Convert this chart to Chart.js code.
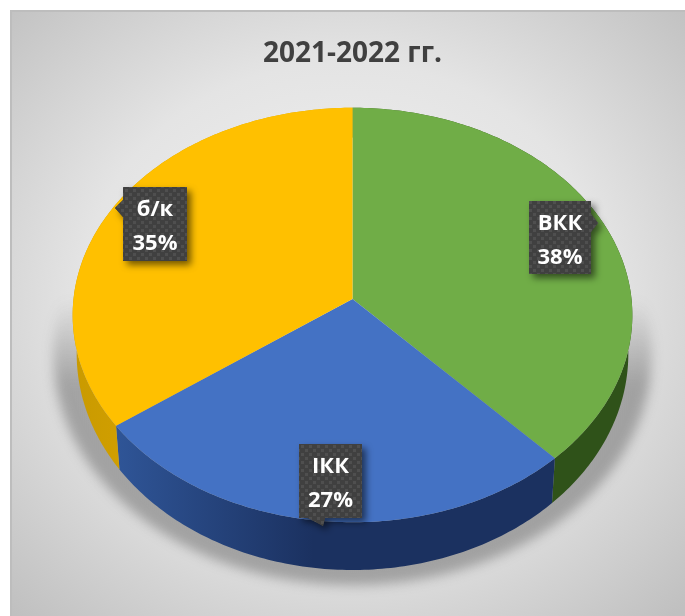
<!DOCTYPE html>
<html>
<head>
<meta charset="utf-8">
<style>html,body{margin:0;padding:0;background:#fff}canvas{display:block}</style>
<script src="https://cdn.jsdelivr.net/npm/chart.js@4/dist/chart.umd.js"></script>
</head>
<body>
<canvas id="c" width="685" height="616"></canvas>
<script>
const chartTitle = '2021-2022 гг.';
const categories = ['ВКК', 'ІКК', 'б/к'];
const shares = [38, 27, 35];
const topColors = ['#70ad47', '#4472c4', '#ffc000'];
const sideLight = ['#3f6a22', '#2f5597', '#c99a00'];
const sideDark = ['#2f5219', '#1b3160', '#dca600'];

const FONT = '"Open Sans", Lato, "Noto Sans", sans-serif';
const calloutBoxes = [
  {x:529, y:201, w:62, h:73, tip:[598,223], base:[[591,214],[591,232]]},
  {x:299, y:444, w:63, h:74, tip:[323,526], base:[[308,518],[325,518]]},
  {x:123, y:187, w:64, h:74, tip:[115,208], base:[[123,200],[123,217]]}
];
const G = {apexY:299, a:279, b:206, p:-0.0773, botY:337, botA:275, botB:215};

function topPt(cx, t){
  const u=Math.cos(t), v=Math.sin(t), d=1+G.p*v;
  return [cx+G.a*u/d, G.apexY+G.b*v/d];
}
function botPt(cx, t){
  const u=Math.cos(t), v=Math.sin(t), d=1+G.p*v;
  return [cx+G.botA*u/d, G.botY+G.botB*v/d];
}
function samples(a0, a1){
  const n=Math.max(2, Math.ceil(Math.abs(a1-a0)/0.015)), out=[];
  for(let i=0;i<=n;i++) out.push(a0+(a1-a0)*i/n);
  return out;
}

const bgPlugin = {
  id:'panel',
  beforeDraw(chart){
    const {ctx,width,height}=chart;
    ctx.save();
    ctx.fillStyle='#fff'; ctx.fillRect(0,0,width,height);
    ctx.translate(345,300); ctx.scale(1,0.9);
    const g=ctx.createRadialGradient(0,0,0,0,0,480);
    g.addColorStop(0,'#f4f4f4');
    g.addColorStop(0.55,'#e4e4e4');
    g.addColorStop(1,'#c0c0c0');
    ctx.fillStyle=g;
    ctx.fillRect(10-345,(10-300)/0.9,width,(height)/0.9+20);
    ctx.restore();
    ctx.fillStyle='#bdbdbd';
    ctx.fillRect(10,10,width-10,2);
    ctx.fillRect(10,10,2,height-10);
  }
};

const pie3d = {
  id:'pie3d',
  beforeDatasetDraw(chart, args){
    const {ctx}=chart;
    const arcs=chart.getDatasetMeta(args.index).data;
    const cx=arcs[0].x;
    // soft cast shadow
    ctx.save();
    ctx.filter='blur(6px)';
    const sg=ctx.createLinearGradient(0,300,0,385);
    sg.addColorStop(0,'rgba(80,80,80,0)');
    sg.addColorStop(1,'rgba(80,80,80,0.42)');
    ctx.fillStyle=sg;
    ctx.beginPath();
    samples(0,Math.PI*2).forEach((t,i)=>{
      const p=botPt(cx,t);
      const x=cx+(p[0]-cx)*1.085, y=G.botY+(p[1]-G.botY)*1.065;
      i?ctx.lineTo(x,y):ctx.moveTo(x,y);
    });
    ctx.closePath(); ctx.fill();
    ctx.restore();
    // side wall
    arcs.forEach((arc,i)=>{
      const ts=samples(arc.startAngle,arc.endAngle);
      const xs=ts.map(t=>topPt(cx,t)[0]);
      const grad=ctx.createLinearGradient(Math.max(...xs),0,Math.min(...xs),0);
      grad.addColorStop(0,sideDark[i]);
      grad.addColorStop(0.55,sideDark[i]);
      grad.addColorStop(1,sideLight[i]);
      ctx.fillStyle=grad;
      ctx.beginPath();
      ts.forEach((t,k)=>{const p=topPt(cx,t); k?ctx.lineTo(p[0],p[1]):ctx.moveTo(p[0],p[1]);});
      ts.slice().reverse().forEach(t=>{const p=botPt(cx,t); ctx.lineTo(p[0],p[1]);});
      ctx.closePath(); ctx.fill();
    });
    // top face
    arcs.forEach(arc=>{
      ctx.fillStyle=arc.options.backgroundColor;
      ctx.beginPath();
      ctx.moveTo(cx,G.apexY);
      samples(arc.startAngle,arc.endAngle).forEach(t=>{const p=topPt(cx,t); ctx.lineTo(p[0],p[1]);});
      ctx.closePath(); ctx.fill();
    });
    return false;
  },
  afterDatasetsDraw(chart){
    const {ctx}=chart;
    const pc=document.createElement('canvas'); pc.width=pc.height=8;
    const q=pc.getContext('2d');
    q.fillStyle='#404040'; q.fillRect(0,0,8,8);
    q.fillStyle='#4f4f4f'; q.fillRect(1,1,3,3); q.fillRect(5,5,3,3);
    const pat=ctx.createPattern(pc,'repeat');
    const ds=chart.data.datasets[0].data;
    const total=ds.reduce((s,v)=>s+v,0);
    calloutBoxes.forEach((b,i)=>{
      const shape=()=>{
        ctx.beginPath();
        ctx.rect(b.x,b.y,b.w,b.h);
        ctx.moveTo(b.base[0][0],b.base[0][1]);
        ctx.lineTo(b.tip[0],b.tip[1]);
        ctx.lineTo(b.base[1][0],b.base[1][1]);
        ctx.closePath();
      };
      ctx.save();
      ctx.shadowColor='rgba(0,0,0,0.55)';
      ctx.shadowBlur=7; ctx.shadowOffsetX=4; ctx.shadowOffsetY=4;
      ctx.fillStyle='#404040'; shape(); ctx.fill();
      ctx.restore();
      ctx.fillStyle=pat; shape(); ctx.fill();
      ctx.fillStyle='#fff';
      ctx.font='bold 22px '+FONT;
      ctx.textAlign='center'; ctx.textBaseline='middle';
      const mx=b.x+b.w/2;
      ctx.fillText(chart.data.labels[i],mx,b.y+23);
      ctx.fillText(Math.round(ds[i]/total*100)+'%',mx,b.y+57);
    });
  }
};

new Chart(document.getElementById('c'),{
  type:'pie',
  data:{labels:categories,datasets:[{data:shares,backgroundColor:topColors,borderWidth:0}]},
  options:{
    responsive:false,
    animation:false,
    layout:{padding:{left:30,right:10,top:0,bottom:38}},
    plugins:{
      legend:{display:false},
      tooltip:{enabled:false},
      title:{display:true,text:chartTitle,color:'#404040',fullSize:false,
        font:{family:FONT,size:28,weight:'bold'},padding:{top:37,bottom:6}}
    }
  },
  plugins:[bgPlugin,pie3d]
});
</script>
</body>
</html>
